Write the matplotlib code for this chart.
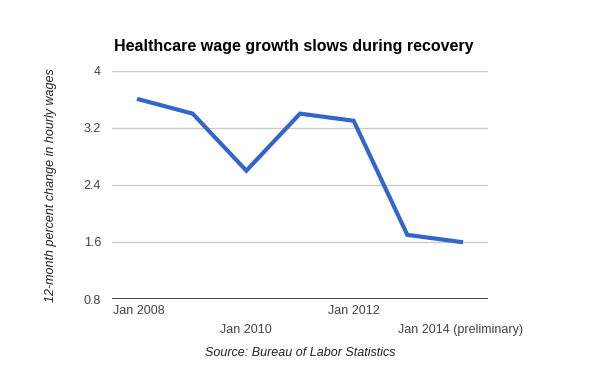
import matplotlib
matplotlib.use("Agg")
import matplotlib.pyplot as plt

# healthcare wage growth, 12-month % change, January of each year
years = ["Jan 2008", "Jan 2009", "Jan 2010", "Jan 2011", "Jan 2012", "Jan 2013", "Jan 2014 (preliminary)"]
growth = [3.6, 3.4, 2.6, 3.4, 3.3, 1.7, 1.6]
yticks = [0.8, 1.6, 2.4, 3.2, 4]
ytick_labels = ["0.8", "1.6", "2.4", "3.2", "4"]

plt.rcParams['font.family'] = ['Liberation Sans', 'DejaVu Sans']

fig = plt.figure(figsize=(6, 3.71), dpi=100)
ax = fig.add_axes([0.187, 0.194, 0.626, 0.615])

xs = list(range(len(years)))
ax.plot(xs, growth, color='#3366cc', linewidth=3, solid_joinstyle='miter', zorder=3)

ax.set_xlim(-0.5, len(years) - 0.5)
ax.set_ylim(0.8, 4)
ax.set_yticks(yticks)
ax.set_yticklabels(ytick_labels)
ax.grid(axis='y', color='#cccccc', linewidth=1)
ax.axhline(0.8, color='#333333', linewidth=1.2, zorder=4)

shown = xs[::2]
ax.set_xticks(shown)
ax.set_xticklabels([years[i] for i in shown])
for k, t in enumerate(ax.xaxis.get_major_ticks()):
    t.set_pad(4 if k % 2 == 0 else 18)

ax.tick_params(axis='both', length=0, labelsize=9, labelcolor='#444444')
ax.tick_params(axis='y', pad=8)
for s in ax.spines.values():
    s.set_visible(False)

ax.set_title('Healthcare wage growth slows during recovery', fontsize=11.5,
             fontweight='bold', loc='left', x=0.005, pad=14, color='#000000')
ax.set_ylabel('12-month percent change in hourly wages', fontsize=9,
              style='italic', color='#222222', labelpad=19)
ax.set_xlabel('Source: Bureau of Labor Statistics', fontsize=9,
              style='italic', color='#222222', labelpad=8)

fig.savefig('out.png', dpi=100)
